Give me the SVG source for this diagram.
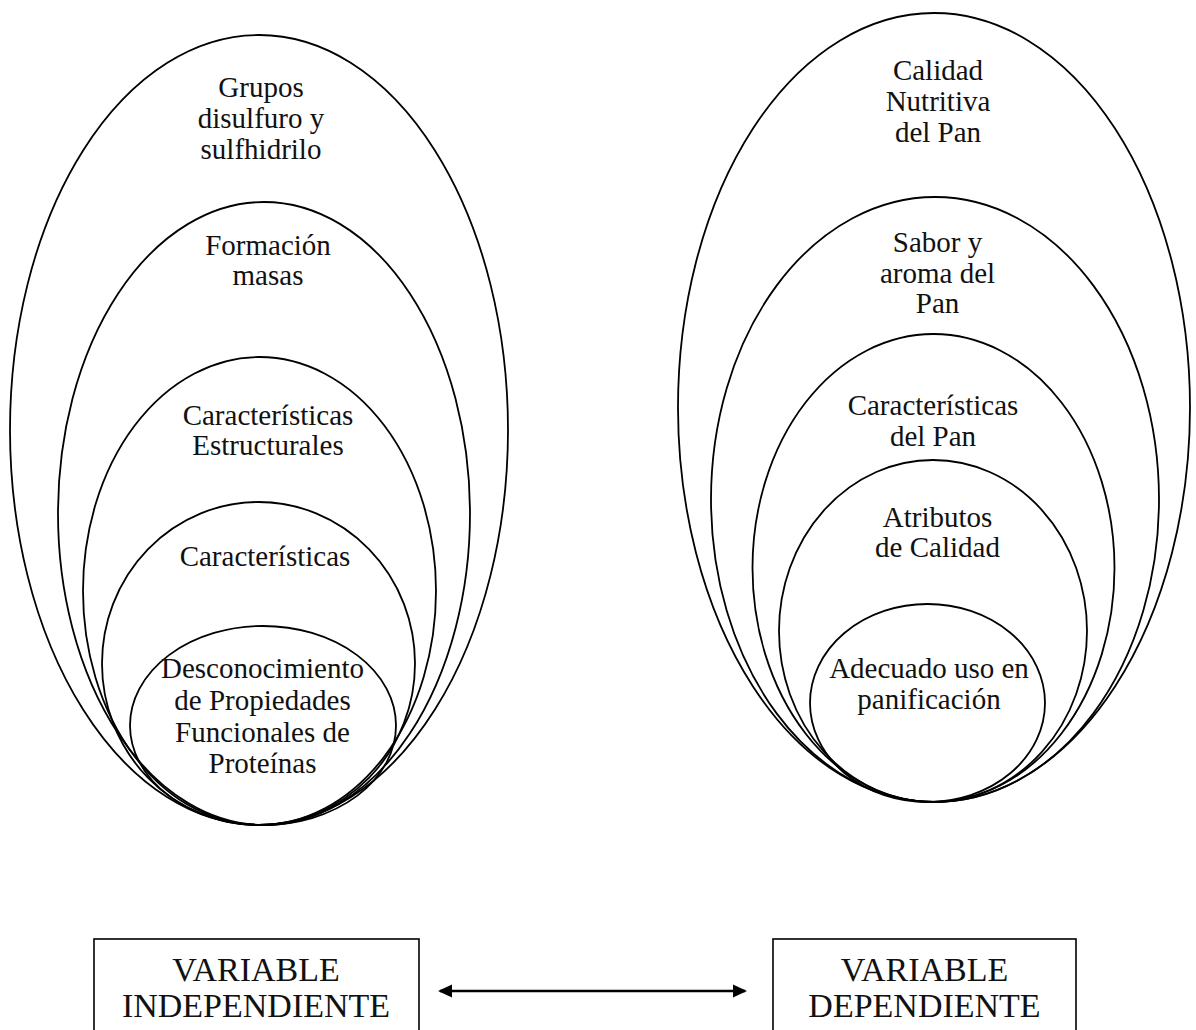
<svg xmlns="http://www.w3.org/2000/svg" width="1196" height="1030" viewBox="0 0 1196 1030">
<style>
.e{fill:none;stroke:#000;stroke-width:1.8}
.t{font-family:"Liberation Serif","Times New Roman",serif;font-size:29px;fill:#111;text-anchor:middle}
.b{font-family:"Liberation Serif","Times New Roman",serif;font-size:34px;fill:#111;text-anchor:middle}
.box{fill:none;stroke:#000;stroke-width:1.6}
.c{stroke:#000;stroke-width:2.6;fill:none}
</style>
<defs>
<marker id="ah" viewBox="0 0 14 14" refX="12" refY="7" markerWidth="14" markerHeight="14" markerUnits="userSpaceOnUse" orient="auto-start-reverse">
<path d="M0,0.5 L14,7 L0,13.5 Z" fill="#000"/>
</marker>
</defs>
<rect width="1196" height="1030" fill="#fff"/>
<g id="left-group">
<g id="grupos">
<ellipse class="e" cx="259" cy="430" rx="249" ry="395"/>
<text class="t" x="261" y="97">Grupos</text>
<text class="t" x="261" y="128">disulfuro y</text>
<text class="t" x="261" y="159">sulfhidrilo</text>
</g>
<g id="formacion">
<ellipse class="e" cx="264" cy="513.5" rx="206" ry="311.5"/>
<text class="t" x="268" y="255">Formación</text>
<text class="t" x="268" y="285">masas</text>
</g>
<g id="caract-estructurales">
<ellipse class="e" cx="259.5" cy="591" rx="176.5" ry="234"/>
<text class="t" x="268" y="425">Características</text>
<text class="t" x="268" y="455">Estructurales</text>
</g>
<g id="caracteristicas">
<ellipse class="e" cx="258.5" cy="663.5" rx="156.5" ry="161.5"/>
<text class="t" x="265" y="566">Características</text>
</g>
<g id="desconocimiento">
<ellipse class="e" cx="263" cy="725.5" rx="133" ry="99.5"/>
<text class="t" x="262.5" y="678">Desconocimiento</text>
<text class="t" x="262.5" y="710">de Propiedades</text>
<text class="t" x="262.5" y="742">Funcionales de</text>
<text class="t" x="262.5" y="773">Proteínas</text>
</g>
</g>
<g id="right-group">
<g id="calidad-nutritiva">
<ellipse class="e" cx="934" cy="407.5" rx="256" ry="394.5"/>
<text class="t" x="938" y="80">Calidad</text>
<text class="t" x="938" y="111">Nutritiva</text>
<text class="t" x="938" y="142">del Pan</text>
</g>
<g id="sabor-aroma">
<ellipse class="e" cx="935" cy="499.5" rx="224" ry="302.5"/>
<text class="t" x="937.5" y="252">Sabor y</text>
<text class="t" x="937.5" y="283">aroma del</text>
<text class="t" x="937.5" y="313">Pan</text>
</g>
<g id="caract-pan">
<ellipse class="e" cx="933.5" cy="568" rx="181" ry="234"/>
<text class="t" x="933" y="415">Características</text>
<text class="t" x="933" y="446">del Pan</text>
</g>
<g id="atributos">
<ellipse class="e" cx="933" cy="631" rx="154" ry="171"/>
<text class="t" x="937.5" y="527">Atributos</text>
<text class="t" x="937.5" y="557">de Calidad</text>
</g>
<g id="adecuado">
<ellipse class="e" cx="927.5" cy="703" rx="117.5" ry="99"/>
<text class="t" x="929" y="678">Adecuado uso en</text>
<text class="t" x="929" y="709">panificación</text>
</g>
</g>
<g id="var-independiente">
<rect class="box" x="94" y="939" width="325" height="110"/>
<text class="b" x="256" y="981">VARIABLE</text>
<text class="b" x="256" y="1017">INDEPENDIENTE</text>
</g>
<g id="var-dependiente">
<rect class="box" x="773" y="939" width="303" height="110"/>
<text class="b" x="924.5" y="981">VARIABLE</text>
<text class="b" x="924.5" y="1017">DEPENDIENTE</text>
</g>
<g id="connectors">
<line class="c" x1="440" y1="991" x2="745" y2="991" marker-start="url(#ah)" marker-end="url(#ah)"/>
</g>
</svg>
